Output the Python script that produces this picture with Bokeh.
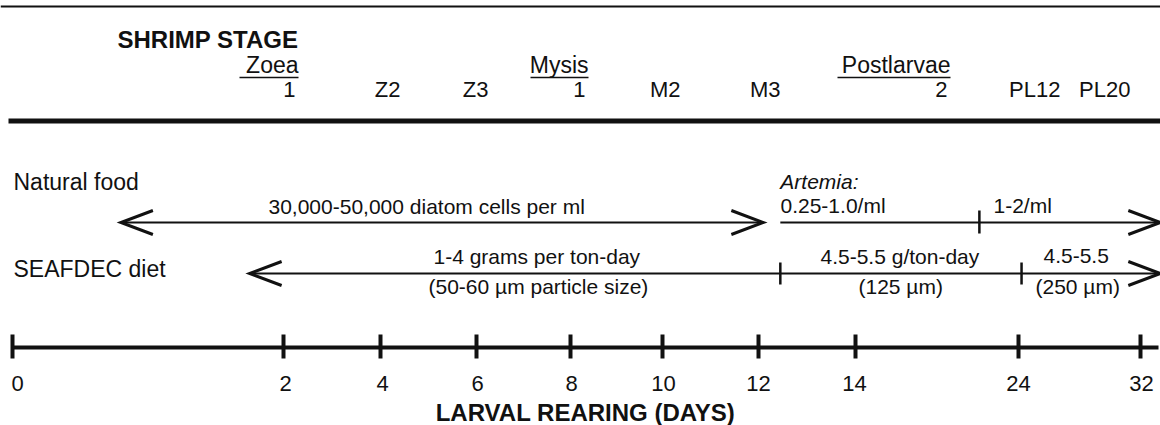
import numpy as np
from bokeh.plotting import figure
from bokeh.models import Range1d
from bokeh.core.properties import value
from bokeh.embed import file_html
from bokeh.resources import INLINE

# ---------------- data ----------------
header_title = "SHRIMP STAGE"
x_title = "LARVAL REARING (DAYS)"
day_ticks = [0, 2, 4, 6, 8, 10, 12, 14, 24, 32]
day_labels = ["0", "2", "4", "6", "8", "10", "12", "14", "24", "32"]

stage_groups = ["Zoea", "Mysis", "Postlarvae"]
stage_group_first = [0, 3, 6]          # index of first stage label in each group
stage_labels = ["1", "Z2", "Z3", "1", "M2", "M3", "2", "PL12", "PL20"]

row_names = ["Natural food", "SEAFDEC diet"]

# Natural food: diatoms (double arrow), then Artemia phases (open ended)
diatom_days = [0.8, 12.1]
diatom_text = "30,000-50,000 diatom cells per ml"
artemia_note = "Artemia:"
artemia_days = [12.45, 21.6, 33.3]
artemia_texts = ["0.25-1.0/ml", "1-2/ml"]

# SEAFDEC diet phases
seafdec_days = [1.75, 12.45, 24.2, 33.3]
seafdec_rates = ["1-4 grams per ton-day", "4.5-5.5 g/ton-day", "4.5-5.5"]
seafdec_sizes = ["(50-60 \u00b5m particle size)", "(125 \u00b5m)", "(250 \u00b5m)"]

# ---------------- layout (diagram pixels; timeline is schematic) ----------------
W, H = 1160, 425
tick_px = [12, 283, 380, 476, 570, 662, 758, 855, 1018, 1140]
stage_right_px = [295, 400, 488, 585, 680, 780, 947, 1060, 1130]
group_underline_w = [59, 58, 113]
diatom_text_left = 268
artemia_text_left = [780, 993]
seafdec_rate_left = [433, 820, 1043]
seafdec_size_left = [428, 858, 1035]
day_label_dx = [5, 2, 2, 1, 1, 1, 0, -1, 0, 1]

Y_TOP_RULE, Y_HEADER, Y_GROUP, Y_STAGE, Y_THICK_RULE = 6, 47, 73, 97, 120.5
Y_ART_NOTE, Y_NAT_TXT, Y_NAT = 188, 213, 222
Y_SEA_RATE, Y_SEA, Y_SEA_SIZE = 263, 273, 293
Y_AXIS, Y_DAY_LBL, Y_XTITLE = 347, 391, 420
HEAD_L, HEAD_H = 32, 12

FONT = value("Liberation Sans")
BLACK = "#111111"
K_MID = 0.35   # baseline -> vertical middle of the text


def X(d):
    d = np.asarray(d, dtype=float)
    x = np.interp(d, day_ticks, tick_px)
    s_hi = (tick_px[-1] - tick_px[-2]) / (day_ticks[-1] - day_ticks[-2])
    s_lo = (tick_px[1] - tick_px[0]) / (day_ticks[1] - day_ticks[0])
    x = np.where(d > day_ticks[-1], tick_px[-1] + (d - day_ticks[-1]) * s_hi, x)
    x = np.where(d < day_ticks[0], tick_px[0] + (d - day_ticks[0]) * s_lo, x)
    return x


p = figure(width=W, height=H, output_backend="svg", toolbar_location=None,
           x_range=Range1d(0, W), y_range=Range1d(H, 0),
           min_border=0, outline_line_color=None)
p.axis.visible = False
p.grid.visible = False
p.background_fill_color = "white"
p.border_fill_color = "white"


def txt(xs, baselines, texts, size=21, align="left", style="normal"):
    ys = [b - K_MID * size for b in baselines]
    p.text(x=list(xs), y=ys, text=list(texts), text_align=align,
           text_baseline="middle", text_font=FONT,
           text_font_size=value(f"{size}px"), text_font_style=style, text_color=BLACK)


def head(x_tip, y, direction):
    # open chevron arrowhead; direction -1 points left, +1 points right
    xb = x_tip - direction * HEAD_L
    p.multi_line(xs=[[xb, x_tip, xb]], ys=[[y - HEAD_H, y, y + HEAD_H]],
                 line_color=BLACK, line_width=3, line_join="miter")


# ---- header rules ----
p.segment(x0=[0], y0=[Y_TOP_RULE], x1=[W], y1=[Y_TOP_RULE], line_color=BLACK, line_width=2)
p.segment(x0=[8], y0=[Y_THICK_RULE], x1=[W], y1=[Y_THICK_RULE], line_color=BLACK, line_width=5)

# ---- shrimp stage header ----
txt([117], [Y_HEADER], [header_title], size=24, style="bold")
txt(stage_right_px, [Y_STAGE] * len(stage_labels), stage_labels, size=22, align="right")
g_right = [stage_right_px[i] + 3 for i in stage_group_first]
txt(g_right, [Y_GROUP] * 3, stage_groups, size=23, align="right")
p.segment(x0=[r - w for r, w in zip(g_right, group_underline_w)], y0=[Y_GROUP + 4] * 3,
          x1=g_right, y1=[Y_GROUP + 4] * 3, line_color=BLACK, line_width=1.5)

# ---- row names ----
txt([13, 13], [190, 277], row_names, size=23)

# ---- natural food ----
dx = X(diatom_days)
p.segment(x0=[dx[0]], y0=[Y_NAT], x1=[dx[1]], y1=[Y_NAT], line_color=BLACK, line_width=2)
head(dx[0], Y_NAT, -1)
head(dx[1], Y_NAT, +1)
txt([diatom_text_left], [Y_NAT_TXT], [diatom_text])

ax = X(artemia_days)
p.segment(x0=[ax[0]], y0=[Y_NAT], x1=[ax[-1]], y1=[Y_NAT], line_color=BLACK, line_width=2)
head(ax[-1], Y_NAT, +1)
p.segment(x0=list(ax[1:-1]), y0=[Y_NAT - 12] * (len(ax) - 2), x1=list(ax[1:-1]),
          y1=[Y_NAT + 11] * (len(ax) - 2), line_color=BLACK, line_width=2.5)
txt([ax[0]], [Y_ART_NOTE], [artemia_note], size=21, style="italic")
txt(artemia_text_left, [Y_NAT_TXT - 1] * 2, artemia_texts)

# ---- SEAFDEC diet ----
sx = X(seafdec_days)
p.segment(x0=[sx[0]], y0=[Y_SEA], x1=[sx[-1]], y1=[Y_SEA], line_color=BLACK, line_width=2)
head(sx[0], Y_SEA, -1)
head(sx[-1], Y_SEA, +1)
p.segment(x0=list(sx[1:-1]), y0=[Y_SEA - 11] * (len(sx) - 2), x1=list(sx[1:-1]),
          y1=[Y_SEA + 11] * (len(sx) - 2), line_color=BLACK, line_width=2.5)
txt(seafdec_rate_left, [Y_SEA_RATE] * 3, seafdec_rates)
txt(seafdec_size_left, [Y_SEA_SIZE] * 3, seafdec_sizes)

# ---- day timeline ----
tx = X(day_ticks)
p.segment(x0=[tx[0]], y0=[Y_AXIS], x1=[W - 2], y1=[Y_AXIS], line_color=BLACK, line_width=4)
p.segment(x0=list(tx), y0=[Y_AXIS - 13] * len(tx), x1=list(tx), y1=[Y_AXIS + 11] * len(tx),
          line_color=BLACK, line_width=4)
txt(list(tx + np.array(day_label_dx)), [Y_DAY_LBL] * len(tx), day_labels, size=22, align="center")
txt([585], [Y_XTITLE], [x_title], size=24, align="center", style="bold")

open("out.html", "w").write(file_html(p, INLINE))
